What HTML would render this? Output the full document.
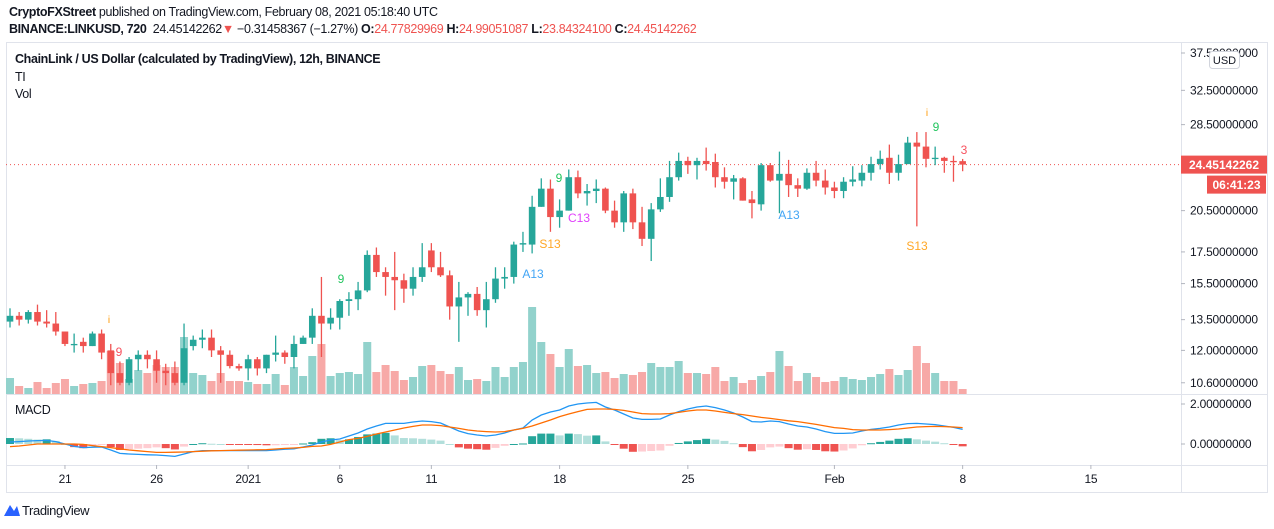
<!DOCTYPE html>
<html><head><meta charset="utf-8">
<style>
html,body{margin:0;padding:0;background:#fff;width:1274px;height:529px;overflow:hidden;font-family:"Liberation Sans",sans-serif;}
.hdr{position:absolute;left:9px;font-size:12.5px;letter-spacing:-0.35px;color:#131722;white-space:nowrap;}
.leg{position:absolute;left:15px;font-size:12.5px;letter-spacing:-0.35px;color:#131722;}
svg{position:absolute;left:0;top:0;}
</style></head>
<body>
<div class="hdr" style="top:5px"><b>CryptoFXStreet</b> published on TradingView.com, February 08, 2021 05:18:40 UTC</div>
<div class="hdr" style="top:22px"><b>BINANCE:LINKUSD, 720</b>&nbsp; 24.45142262<span style="color:#ef5350">▼</span> −0.31458367 (−1.27%) <b>O:</b><span style="color:#ef5350">24.77829969</span> <b>H:</b><span style="color:#ef5350">24.99051087</span> <b>L:</b><span style="color:#ef5350">23.84324100</span> <b>C:</b><span style="color:#ef5350">24.45142262</span></div>
<div class="leg" style="top:52px;font-weight:bold">ChainLink / US Dollar (calculated by TradingView), 12h, BINANCE</div>
<div class="leg" style="top:70px">TI</div>
<div class="leg" style="top:87px">Vol</div>
<div class="leg" style="top:403px">MACD</div>
<svg id="chart" width="1274" height="529"></svg>
<script>
const opens=[13.4,13.7,13.5,13.9,13.4,13.3,12.9,12.3,12.4,12.2,12.8,12.0,11.0,10.6,11.6,11.8,11.6,11.1,11.0,10.6,12.2,12.5,12.6,12.0,11.8,11.3,11.2,11.6,11.2,11.8,11.9,11.7,12.3,12.6,13.7,13.3,13.6,14.5,14.6,15.1,17.3,16.2,15.9,15.7,15.2,15.9,17.6,16.5,16.0,14.2,14.7,14.9,14.0,14.6,15.8,15.9,18.0,18.0,20.8,22.3,20.0,20.5,23.3,21.9,22.1,22.3,20.5,19.6,21.9,19.6,18.4,20.6,21.6,23.3,24.8,24.4,24.8,24.7,23.3,22.9,23.2,21.4,21.0,24.4,23.0,23.6,22.6,22.3,23.7,23.0,22.4,22.1,22.9,23.0,23.7,24.5,25.1,23.7,24.5,26.6,26.2,25.0,25.1,24.8,24.78];
const highs=[14.1,13.9,14.0,14.3,14.0,13.9,12.9,12.8,12.6,12.9,13.0,12.3,11.5,11.7,12.0,12.0,12.0,11.4,11.5,13.3,12.7,13.0,13.0,12.2,12.0,11.4,11.8,11.7,11.8,12.7,12.0,12.7,12.7,14.1,15.9,14.1,14.6,15.0,15.6,17.6,17.8,16.5,17.5,16.1,16.5,18.1,18.1,17.5,16.3,15.6,15.0,15.3,15.6,16.5,16.5,18.2,18.9,21.7,23.2,23.1,21.4,24.0,23.9,22.7,23.1,22.4,21.3,22.1,22.3,20.8,21.1,23.2,24.8,25.6,25.2,25.1,26.1,25.5,24.2,23.5,23.3,22.1,24.6,24.6,25.7,24.9,23.2,24.1,24.8,24.0,22.9,23.3,24.3,24.4,25.2,25.8,26.4,25.4,27.2,27.7,27.7,26.2,25.2,25.3,24.99];
const lows=[13.1,13.2,13.3,13.2,13.1,12.7,12.2,11.9,11.9,12.2,11.6,10.5,10.5,10.5,11.1,11.2,10.6,10.5,10.5,10.5,12.0,12.1,11.7,10.6,11.2,11.1,10.7,10.9,11.0,11.5,11.4,11.2,12.3,12.3,11.7,13.0,13.0,13.7,14.0,15.0,15.9,14.8,14.0,14.4,14.8,15.6,16.2,15.9,13.5,12.4,13.7,13.7,13.1,14.4,15.2,15.5,17.5,17.4,20.8,18.9,19.2,20.5,21.5,20.9,21.1,20.3,19.2,18.9,19.1,17.9,16.9,20.4,21.2,23.0,23.6,23.1,23.9,22.4,22.3,21.4,21.3,19.9,20.5,22.9,20.3,21.6,21.6,22.2,22.5,21.8,21.5,21.5,22.5,22.5,23.0,24.0,22.7,23.0,24.5,19.3,24.2,24.4,23.7,22.9,23.84];
const closes=[13.7,13.5,13.9,13.4,13.3,12.9,12.3,12.3,12.2,12.8,11.9,11.0,10.6,11.6,11.8,11.6,11.1,11.0,10.6,12.1,12.5,12.6,12.0,11.8,11.3,11.2,11.6,11.2,11.8,11.9,11.7,12.3,12.6,13.7,13.3,13.6,14.5,14.6,15.1,17.3,16.2,15.9,15.7,15.2,15.9,16.5,16.5,16.0,14.2,14.7,14.9,14.0,14.6,15.8,15.9,18.0,18.1,20.8,22.3,20.0,20.5,23.3,21.9,22.1,22.3,20.5,19.6,21.9,19.6,18.4,20.6,21.6,23.3,24.8,24.4,24.8,24.5,23.3,22.9,23.2,21.3,21.1,24.4,23.0,23.6,22.6,22.3,23.7,23.0,22.4,22.1,22.9,23.1,23.7,24.5,25.0,23.7,24.5,26.6,26.2,25.0,25.1,24.8,24.76,24.45142262];
const volumes=[16,8,6,12,6,11,15,8,10,11,13,43,31,15,24,21,29,27,27,57,21,19,13,21,13,13,12,10,10,20,9,27,18,38,50,18,21,22,20,52,22,29,23,14,17,28,29,23,20,27,14,15,13,27,17,27,32,87,52,40,27,45,28,29,21,22,16,20,19,22,31,27,27,33,21,21,20,27,13,17,11,14,18,22,43,28,13,21,17,12,13,17,15,14,17,20,25,19,24,48,31,21,13,13,5];
const macdLine=[0.1,0.12,0.15,0.17,0.18,0.12,0.0,-0.12,-0.18,-0.16,-0.15,-0.3,-0.47,-0.5,-0.52,-0.54,-0.55,-0.58,-0.62,-0.5,-0.38,-0.33,-0.33,-0.33,-0.33,-0.33,-0.33,-0.33,-0.33,-0.3,-0.26,-0.24,-0.15,-0.05,0.1,0.2,0.25,0.4,0.55,0.75,0.9,1.03,1.03,1.03,1.1,1.15,1.12,1.05,0.85,0.65,0.52,0.45,0.4,0.45,0.55,0.7,0.8,1.2,1.45,1.6,1.7,1.9,2.0,2.05,2.08,1.85,1.7,1.5,1.3,1.23,1.23,1.25,1.45,1.62,1.75,1.85,1.9,1.82,1.7,1.55,1.35,1.12,1.1,1.15,1.12,1.0,0.9,0.85,0.75,0.62,0.53,0.53,0.55,0.65,0.73,0.78,0.85,0.95,1.02,1.03,1.0,0.97,0.9,0.83,0.73];
const signalLine=[-0.13,-0.1,-0.05,0,0,0,0,0,-0.02,-0.08,-0.13,-0.18,-0.24,-0.3,-0.34,-0.38,-0.42,-0.42,-0.41,-0.4,-0.38,-0.36,-0.34,-0.33,-0.32,-0.31,-0.3,-0.29,-0.28,-0.25,-0.22,-0.2,-0.17,-0.12,-0.1,-0.02,0.1,0.22,0.28,0.38,0.5,0.6,0.7,0.8,0.88,0.95,0.95,0.92,0.85,0.78,0.7,0.65,0.62,0.6,0.62,0.7,0.78,0.9,1.05,1.2,1.37,1.5,1.62,1.73,1.75,1.75,1.73,1.68,1.6,1.52,1.5,1.5,1.52,1.58,1.65,1.7,1.7,1.65,1.58,1.52,1.47,1.4,1.33,1.28,1.22,1.16,1.12,1.05,0.98,0.9,0.82,0.78,0.72,0.7,0.7,0.7,0.72,0.75,0.8,0.85,0.87,0.88,0.87,0.85,0.82];
const priceTicks=[37.5,32.5,28.5,20.5,17.5,15.5,13.5,12.0,10.6];
const macdTicks=[2.0,0.0];
const timeLabels=["21","26","2021","6","11","18","25","Feb","8","15"];
const timeIndex=[6,16,26,36,46,60,74,90,104,118];
const lastPrice=24.45142262;

const NS="http://www.w3.org/2000/svg";
const svg=document.getElementById('chart');
function mk(tag,attrs,parent){const e=document.createElementNS(NS,tag);for(const k in attrs)e.setAttribute(k,attrs[k]);(parent||svg).appendChild(e);return e;}
const UP="#26a69a",DN="#ef5350";
const xOf=i=>10+i*9.16;
const yP=p=>53+(Math.log(37.5)-Math.log(p))*261;
const yV=v=>394-v*1.0;
const yM=v=>444-v*20;

let f=mk('rect',{x:6.5,y:42.5,width:1261,height:450,fill:'none',stroke:'#e0e3eb'});


let l1=mk('line',{x1:6,y1:394.5,x2:1268,y2:394.5,stroke:'#e0e3eb'});


let l2=mk('line',{x1:6,y1:465.5,x2:1268,y2:465.5,stroke:'#e0e3eb'});


let l3=mk('line',{x1:1181.5,y1:42,x2:1181.5,y2:492,stroke:'#e0e3eb'});



priceTicks.forEach(p=>{const y=yP(p);
 mk('line',{x1:1181,y1:y,x2:1185,y2:y,stroke:'#b2b5be'});
 const t=mk('text',{x:1190,y:y+4,'font-size':12,fill:'#131722','letter-spacing':'-0.2'});t.textContent=p.toFixed(8);
 
 
});
macdTicks.forEach(v=>{const y=yM(v);
 mk('line',{x1:1181,y1:y,x2:1185,y2:y,stroke:'#b2b5be'});
 const t=mk('text',{x:1190,y:y+4,'font-size':12,fill:'#131722','letter-spacing':'-0.2'});t.textContent=v.toFixed(8);
 
 
});
timeLabels.forEach((s,k)=>{const x=xOf(timeIndex[k]);
 mk('line',{x1:x,y1:465,x2:x,y2:469,stroke:'#b2b5be'});
 const t=mk('text',{x:x,y:483,'font-size':12,fill:'#131722','text-anchor':'middle','letter-spacing':'-0.3'});t.textContent=s;
 
 
});

const ub=mk('rect',{x:1209.5,y:51.5,width:30,height:17,rx:3,fill:'#fff',stroke:'#d1d4dc'});


const ut=mk('text',{x:1224.5,y:64,'font-size':11,fill:'#131722','text-anchor':'middle'});ut.textContent='USD';



volumes.forEach((v,i)=>{const up=closes[i]>=opens[i];
 const r=mk('rect',{x:xOf(i)-4,y:yV(v),width:8,height:394-yV(v),fill:up?'#92d2cc':'#f7a9a7'});
 
 
});

const pl=mk('line',{x1:6,y1:yP(lastPrice),x2:1181,y2:yP(lastPrice),stroke:DN,'stroke-dasharray':'1 3'});



opens.forEach((o,i)=>{const c=closes[i],up=c>=o,col=up?UP:DN,x=xOf(i);
 const g=mk('g',{});
 
 
 mk('line',{x1:x,y1:yP(highs[i]),x2:x,y2:yP(lows[i]),stroke:col,'stroke-width':1.3},g);
 const t=Math.min(yP(o),yP(c)),b=Math.max(yP(o),yP(c));
 mk('rect',{x:x-3.3,y:t,width:6.6,height:Math.max(1.3,b-t),fill:col},g);
});

macdLine.forEach((m,i)=>{const h=m-signalLine[i];const ph=i?macdLine[i-1]-signalLine[i-1]:h;
 let col=h>=0?(h>=ph?UP:'#b2dfdb'):(h<ph?DN:'#ffcdd2');
 const y0=yM(0),y1=yM(h*1.3);
 const r=mk('rect',{x:xOf(i)-4,y:Math.min(y0,y1),width:8,height:Math.max(1,Math.abs(y1-y0)),fill:col});
 
 
});
const mp=mk('polyline',{points:macdLine.map((v,i)=>xOf(i)+','+yM(v)).join(' '),fill:'none',stroke:'#2196f3','stroke-width':1.3});


const sp=mk('polyline',{points:signalLine.map((v,i)=>xOf(i)+','+yM(v)).join(' '),fill:'none',stroke:'#ff6d00','stroke-width':1.3});



const pb=mk('rect',{x:1181,y:yP(lastPrice)-9,width:86,height:18,fill:DN});


const pt=mk('text',{x:1224,y:yP(lastPrice)+4.5,'font-size':12,'font-weight':'bold',fill:'#fff','text-anchor':'middle'});pt.textContent='24.45142262';


const cb=mk('rect',{x:1207,y:yP(lastPrice)+11,width:59,height:18,fill:DN});


const ct=mk('text',{x:1236.5,y:yP(lastPrice)+24.5,'font-size':12,'font-weight':'bold',fill:'#fff','text-anchor':'middle'});ct.textContent='06:41:23';



const marks=[["9",119,356,'#f7525f'],["S13",550,248,'#ffa726'],["A13",533,278,'#42a5f5'],["C13",579,222,'#e040fb'],["A13",789,219,'#42a5f5'],["S13",917,250,'#ffa726'],["9",936,131,'#22c55e'],["3",964,154,'#f7525f'],["9",341,283,'#22c55e'],["9",559,182,'#22c55e'],["i",109,323,'#ff9800'],["i",927,116,'#ff9800']];
marks.forEach(m=>{const t=mk('text',{x:m[1],y:m[2],'font-size':m[0]=='i'?10:12,fill:m[3],'text-anchor':'middle'});t.textContent=m[0];
 
 
});

const lg=mk('path',{d:'M4 516 L10 505 L14 511 L17 506 L20 516 Z',fill:'#2962ff'});


const lt=mk('text',{x:22,y:515,'font-size':13,fill:'#131722','letter-spacing':'-0.4'});lt.textContent='TradingView';


</script>
</body></html>
